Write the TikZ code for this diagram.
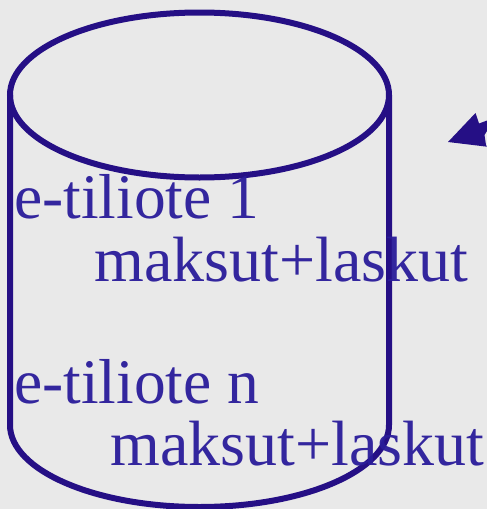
\documentclass[tikz,border=0pt]{standalone}
\usepackage{fontspec}
\setmainfont{Liberation Serif}
\definecolor{bg}{HTML}{E9E9E9}
\definecolor{ink}{HTML}{250F85}
\definecolor{txt}{HTML}{2A1C9A}
\tikzset{lab/.style={anchor=base west,inner sep=0pt,text=txt,text opacity=0.95,font=\fontsize{63.5}{63.5}\selectfont},
wide/.style={lab,font=\fontsize{64}{64}\selectfont},
cyl/.style={draw=ink,line width=6pt}}
\begin{document}
\begin{tikzpicture}[x=1pt,y=-1pt]
\useasboundingbox (0,0) rectangle (487,509);
\fill[bg] (0,0) rectangle (487,509);
\draw[cyl] (199.5,95) ellipse [x radius=189.5,y radius=82.5];
\draw[cyl] (10,95) -- (10,425) arc[start angle=180,end angle=360,x radius=189.5,y radius=-82] -- (389,95);
\node[lab] (a) at (14,218.5) {e-tiliote 1};
\node[wide] (b) at (94.5,281) {maksut+laskut};
\node[lab] (c) at (14,403.5) {e-tiliote n};
\node[wide] (d) at (110.5,465) {maksut+laskut};
\fill[ink] (448,142) -- (475.5,113) -- (479,123.5) -- (487,120.5) -- (487,131) -- (484.5,135) -- (486,145) -- (487,146.7) -- cycle;
\end{tikzpicture}
\end{document}
